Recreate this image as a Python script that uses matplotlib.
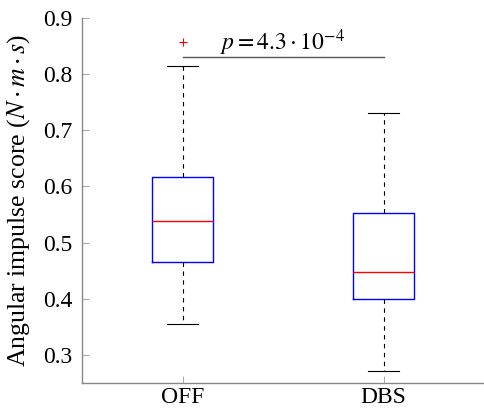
import matplotlib.pyplot as plt

plt.rcParams['font.family'] = 'serif'
plt.rcParams['font.serif'] = ['Liberation Serif', 'DejaVu Serif']
plt.rcParams['mathtext.fontset'] = 'stix'

groups = ["OFF", "DBS"]
q1 = [0.465, 0.399]
medians = [0.538, 0.448]
q3 = [0.617, 0.553]
whisker_low = [0.355, 0.272]
whisker_high = [0.815, 0.731]
outliers = [[0.858], []]
p_value_text = r"$p = 4.3\cdot10^{-4}$"
bracket_y = 0.830

stats = []
for i, name in enumerate(groups):
    stats.append({
        "label": name, "med": medians[i], "q1": q1[i], "q3": q3[i],
        "whislo": whisker_low[i], "whishi": whisker_high[i], "fliers": outliers[i],
    })

fig = plt.figure(figsize=(4.84, 4.11), dpi=100)
ax = fig.add_axes([82 / 484, 28 / 411, 402 / 484, 365 / 411])

ax.bxp(
    stats, positions=[1, 2], widths=0.3,
    boxprops=dict(color="blue", linewidth=1.0),
    medianprops=dict(color="red", linewidth=1.0),
    whiskerprops=dict(color="black", linewidth=0.8, linestyle=(0, (4, 4))),
    capprops=dict(color="black", linewidth=0.8),
    flierprops=dict(marker="+", markeredgecolor="red", markersize=6, markeredgewidth=0.8),
    capwidths=0.15,
)

# significance bracket between the two groups
ax.plot([1, 2], [bracket_y, bracket_y], color="#555555", linewidth=1.0)
ax.text(1.5, bracket_y + 0.012, p_value_text, ha="center", va="baseline", fontsize=17)

ax.set_xlim(0.5, 2.5)
ax.set_ylim(0.25, 0.9)
ax.set_yticks([0.3, 0.4, 0.5, 0.6, 0.7, 0.8, 0.9])
ax.set_xticks([1, 2])
ax.set_xticklabels(groups)

for side in ["top", "right"]:
    ax.spines[side].set_visible(False)
for side in ["left", "bottom"]:
    ax.spines[side].set_color("#888888")
    ax.spines[side].set_linewidth(1.0)
ax.tick_params(direction="in", length=5, color="#aaaaaa", labelsize=17)
ax.tick_params(axis="y", pad=7)
ax.tick_params(axis="x", pad=3)

ax.set_ylabel(r"Angular impulse score ($N\cdot m\cdot s$)", fontsize=18.5)
ax.yaxis.set_label_coords(-0.125, 0.5)

fig.savefig("out.png", dpi=100)
